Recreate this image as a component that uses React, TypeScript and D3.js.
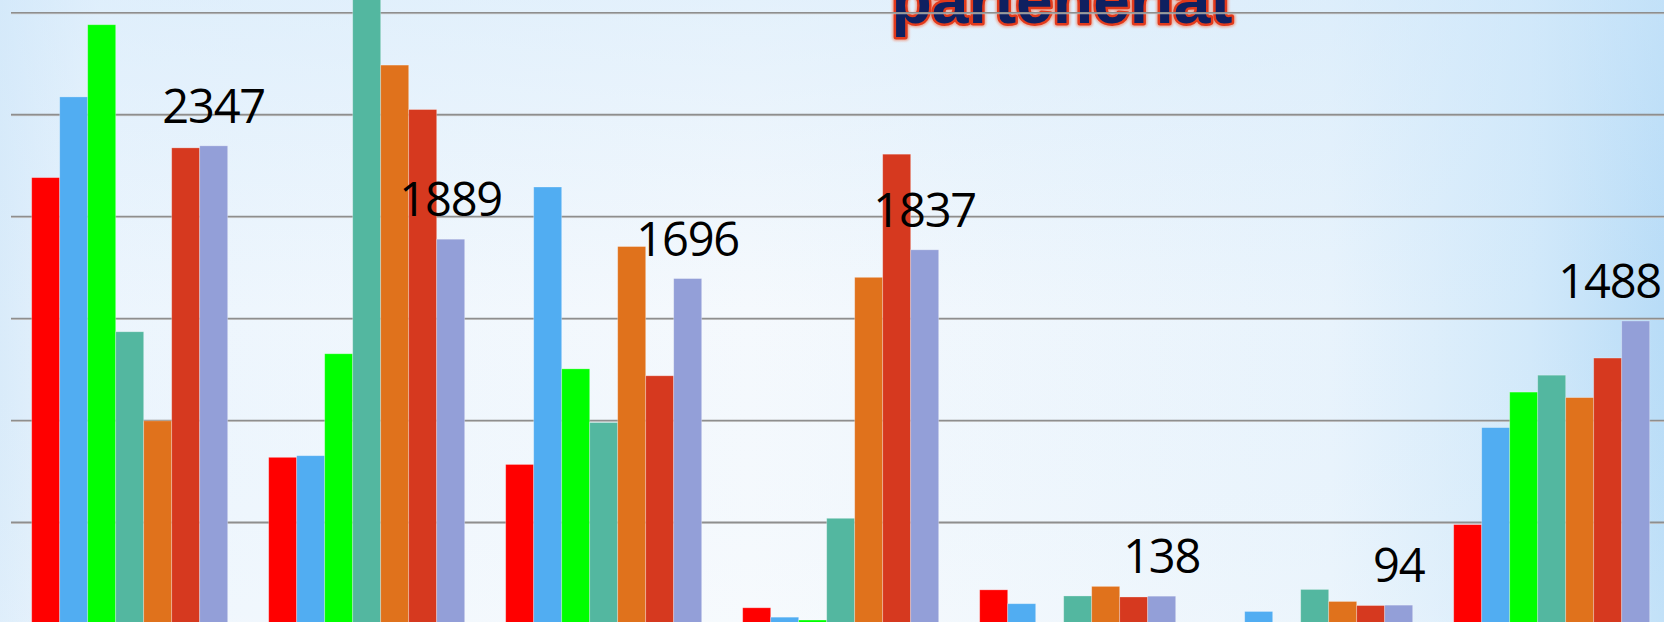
import React from "react";
import * as d3 from "d3";

const categories = ["C1", "C2", "C3", "C4", "C5", "C6", "C7"];
const seriesNames = ["S1", "S2", "S3", "S4", "S5", "S6", "S7"];
const seriesColors = ["#ff0000", "#51adf2", "#00ff00", "#53b7a0", "#e0721c", "#d6391f", "#939fd8"];

const s1 = [2191, 819, 784, 81, 169, 0, 489];
const s2 = [2587, 827, 2145, 35, 101, 63, 965];
const s3 = [2941, 1327, 1253, 21, 0, 0, 1139];
const s4 = [1435, 3150, 990, 520, 139, 171, 1222];
const s5 = [998, 2743, 1853, 1702, 186, 112, 1112];
const s6 = [2337, 2525, 1219, 2306, 134, 92, 1306];
const s7 = [2347, 1889, 1696, 1837, 138, 94, 1488];
const seriesValues = [s1, s2, s3, s4, s5, s6, s7];
const labelSeriesIndex = 6;
const yTicks = [0, 500, 1000, 1500, 2000, 2500, 3000];
const titleText = "parteneriat";

const W = 1664;
const H = 622;

export default function App() {
  const x0 = d3.scaleBand<string>().domain(categories).range([11.2, 1670.2]).paddingInner(0.173).paddingOuter(0.0865);
  const x1 = d3.scaleBand<string>().domain(seriesNames).range([0, x0.bandwidth()]).padding(0);
  const y = d3.scaleLinear().domain([0, 3000]).range([624.3, 12.7]);

  const labelFont = "'Open Sans', 'Liberation Sans', sans-serif";
  const labelSize = 47;
  const digitW = 25;

  return (
    <div style={{ position: "fixed", left: 0, top: 0, width: W, height: H, overflow: "hidden" }}>
      <svg width={W} height={H} style={{ display: "block" }}>
        <defs>
          <linearGradient id="bgH" x1="0" y1="0" x2="1" y2="0">
            <stop offset="0%" stopColor="#d9ebfa" />
            <stop offset="6%" stopColor="#ecf5fd" />
            <stop offset="45%" stopColor="#f5f9fd" />
            <stop offset="80%" stopColor="#e8f3fc" />
            <stop offset="92%" stopColor="#d2e9fa" />
            <stop offset="100%" stopColor="#b8dcf7" />
          </linearGradient>
          <linearGradient id="bgV" x1="0" y1="0" x2="0" y2="1">
            <stop offset="0%" stopColor="#cfe7fa" stopOpacity="0.45" />
            <stop offset="50%" stopColor="#cfe7fa" stopOpacity="0" />
            <stop offset="100%" stopColor="#ffffff" stopOpacity="0.15" />
          </linearGradient>
          <filter id="glow" x="-10%" y="-50%" width="120%" height="200%">
            <feGaussianBlur stdDeviation="1.2" />
          </filter>
        </defs>
        <rect x={0} y={0} width={W} height={H} fill="url(#bgH)" />
        <rect x={0} y={0} width={W} height={H} fill="url(#bgV)" />

        {/* title (cut off at the top edge, as in the reference) */}
        <g fontFamily="'Liberation Sans', Arial, sans-serif" fontWeight="bold" fontSize={66} textAnchor="middle">
          <text x={1062} y={22.5} fill="#f08060" stroke="#f08060" strokeWidth={8} strokeLinejoin="round" filter="url(#glow)" opacity={0.6}>
            {titleText}
          </text>
          <text x={1062} y={22.5} fill="#0f2060" stroke="#e23a1c" strokeWidth={5} strokeLinejoin="round" style={{ paintOrder: "stroke" }}>
            {titleText}
          </text>
        </g>

        {/* gridlines */}
        <g>
          {yTicks.map((t) => (
            <g key={t}>
              <line x1={11} x2={W} y1={y(t) + 1} y2={y(t) + 1} stroke="#c8c8c8" strokeWidth={1} />
              <line x1={11} x2={W} y1={y(t)} y2={y(t)} stroke="#8e8e8e" strokeWidth={1.6} />
            </g>
          ))}
        </g>

        {/* bars */}
        <g>
          {categories.map((c, ci) => (
            <g key={c} transform={`translate(${x0(c)},0)`}>
              {seriesNames.map((s, si) => {
                const v = seriesValues[si][ci];
                if (v <= 0) return null;
                return (
                  <rect
                    key={s}
                    x={x1(s)}
                    y={y(v)}
                    width={x1.bandwidth()}
                    height={y(0) - y(v)}
                    fill={seriesColors[si]}
                    stroke="rgba(255,255,255,0.35)"
                    strokeWidth={0.8}
                  />
                );
              })}
            </g>
          ))}
        </g>

        {/* data labels */}
        <g fontFamily={labelFont} fontSize={labelSize} fill="#000" letterSpacing={-1.2}>
          {categories.map((c, ci) => {
            const v = seriesValues[labelSeriesIndex][ci];
            const cx = (x0(c) as number) + (x1(seriesNames[labelSeriesIndex]) as number) + x1.bandwidth() / 2;
            const txt = String(v);
            const half = (txt.length * digitW) / 2;
            const overflow = cx + half > W - 3;
            return (
              <text
                key={c}
                x={overflow ? W - 3 : cx}
                y={y(v) - 23}
                textAnchor={overflow ? "end" : "middle"}
              >
                {txt}
              </text>
            );
          })}
        </g>
      </svg>
    </div>
  );
}
